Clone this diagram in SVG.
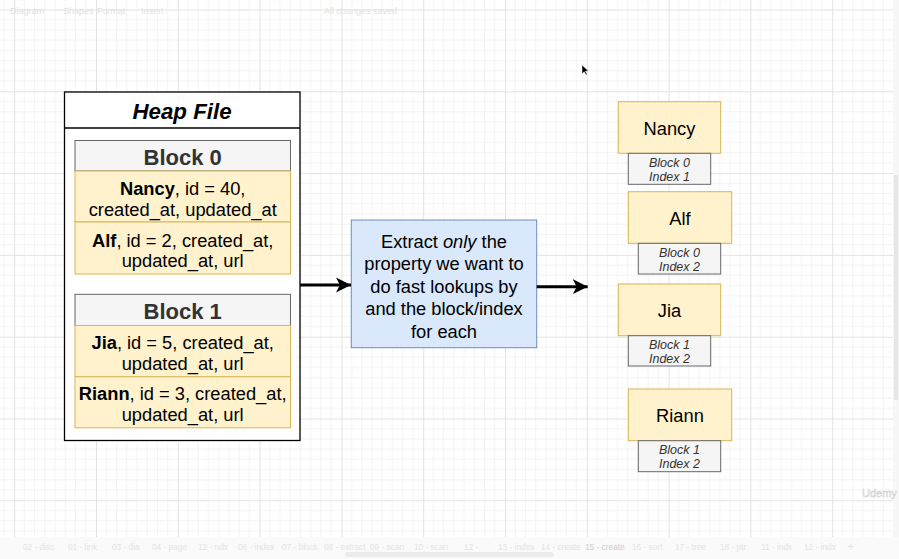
<svg xmlns="http://www.w3.org/2000/svg" width="899" height="559" viewBox="0 0 899 559">
<style>
text{font-family:"Liberation Sans",Arial,sans-serif;}
.heap{fill:#fff;stroke:#000;stroke-width:1.3;}
.hdr{fill:#f5f5f5;stroke:#666;stroke-width:1;}
.row{fill:#fff2cc;stroke:#d6b656;stroke-width:1;}
.mid{fill:#dae8fc;stroke:#6c8ebf;stroke-width:1;}
.sub{fill:#f5f5f5;stroke:#666;stroke-width:1;}
.t18{font-size:18.3px;fill:#000;text-anchor:middle;}
.hd{font-size:22px;font-weight:bold;fill:#333;text-anchor:middle;}
.sm{font-size:12.5px;font-style:italic;fill:#333;text-anchor:middle;}
.ui{font-size:9px;fill:#e2e2e2;}
.tab{font-size:8.3px;fill:#e4e4e4;}
.conn{stroke:#000;stroke-width:3;fill:none;}
</style>
<defs>
<pattern id="grid" patternUnits="userSpaceOnUse" x="14.2" y="9.5" width="81.8" height="81.8">
<path d="M10.225 0V81.8M20.45 0V81.8M30.675 0V81.8M40.9 0V81.8M51.125 0V81.8M61.35 0V81.8M71.575 0V81.8M0 10.225H81.8M0 20.45H81.8M0 30.675H81.8M0 40.9H81.8M0 51.125H81.8M0 61.35H81.8M0 71.575H81.8" stroke="#f3f3f3" stroke-width="1" fill="none"/>
<path d="M0.5 0V81.8M0 0.5H81.8" stroke="#e3e3e3" stroke-width="1" fill="none"/>
</pattern>
<marker id="arr" markerUnits="userSpaceOnUse" markerWidth="16" markerHeight="16" refX="15" refY="8" orient="auto">
<path d="M0 0.5L15 8L0 15.5L4 8Z" fill="#000"/>
</marker>
</defs>
<rect x="0" y="0" width="899" height="559" fill="#fff"/>
<rect x="0" y="0" width="893" height="537" fill="url(#grid)"/>
<rect x="893" y="0" width="6" height="537" fill="#f7f7f7"/>
<rect x="894" y="175" width="4" height="225" fill="#e6e6e6"/>
<rect x="0" y="537" width="899" height="22" fill="#fafafa"/>
<rect x="345" y="552" width="209" height="5" rx="2.5" fill="#ececec"/>

<g id="ui">
<text class="ui" x="10" y="14">Diagram</text>
<text class="ui" x="63" y="14">Shapes</text>
<text class="ui" x="97" y="14">Format</text>
<text class="ui" x="141" y="14">Insert</text>
<text class="ui" x="324" y="14">All changes saved</text>
<text class="tab" x="23" y="550">02 - disc</text>
<text class="tab" x="68" y="550">01 - link</text>
<text class="tab" x="112" y="550">03 - dia</text>
<text class="tab" x="152" y="550">04 - page</text>
<text class="tab" x="198" y="550">12 - ndx</text>
<text class="tab" x="238" y="550">06 - index</text>
<text class="tab" x="282" y="550">07 - block</text>
<text class="tab" x="324" y="550">08 - extract</text>
<text class="tab" x="370" y="550">09 - scan</text>
<text class="tab" x="414" y="550">10 - scan</text>
<text class="tab" x="464" y="550">12 -</text>
<text class="tab" x="498" y="550">13 - index</text>
<text class="tab" x="541" y="550">14 - create</text>
<text class="tab" x="585" y="550" style="fill:#cdcdcd">15 - create</text>
<text class="tab" x="632" y="550">16 - sort</text>
<text class="tab" x="675" y="550">17 - tree</text>
<text class="tab" x="720" y="550">18 - ptr</text>
<text class="tab" x="761" y="550">11 - indx</text>
<text class="tab" x="804" y="550">12 - indx</text>
<text class="tab" x="847" y="551" style="font-size:13px">+</text>
<text x="862" y="497" style="font-size:11px;fill:#fff;stroke:#d0d0d0;stroke-width:0.6">Udemy</text>
<path d="M582 65L582 74L584.2 71.8L586 75L587.2 74.4L585.5 71.2L588.5 71Z" fill="#000" stroke="#fff" stroke-width="0.5"/>
</g>

<g id="heap-file">
<rect class="heap" x="64.5" y="92" width="235.5" height="348.5"/>
<line x1="64.5" y1="128" x2="300" y2="128" stroke="#000" stroke-width="1.3"/>
<text x="182" y="118.5" style="font-size:22.3px;font-weight:bold;font-style:italic;text-anchor:middle;fill:#000">Heap File</text>
</g>

<g id="block0">
<rect class="hdr" x="75" y="140.5" width="215.5" height="30.5"/>
<text class="hd" x="182.7" y="164.5">Block 0</text>
<rect class="row" x="75" y="171" width="215.5" height="51"/>
<text class="t18" x="182.7" y="195"><tspan font-weight="bold">Nancy</tspan>, id = 40,</text>
<text class="t18" x="182.7" y="216">created_at, updated_at</text>
<rect class="row" x="75" y="222" width="215.5" height="52"/>
<text class="t18" x="182.7" y="246.5"><tspan font-weight="bold">Alf</tspan>, id = 2, created_at,</text>
<text class="t18" x="182.7" y="267">updated_at, url</text>
</g>

<g id="block1">
<rect class="hdr" x="75" y="294.3" width="215.5" height="31.2"/>
<text class="hd" x="182.7" y="318.5">Block 1</text>
<rect class="row" x="75" y="325.5" width="215.5" height="51.3"/>
<text class="t18" x="182.7" y="348.5"><tspan font-weight="bold">Jia</tspan>, id = 5, created_at,</text>
<text class="t18" x="182.7" y="369.5">updated_at, url</text>
<rect class="row" x="75" y="376.8" width="215.5" height="51"/>
<text class="t18" x="182.7" y="399.5"><tspan font-weight="bold">Riann</tspan>, id = 3, created_at,</text>
<text class="t18" x="182.7" y="420.5">updated_at, url</text>
</g>

<g id="extract">
<rect class="mid" x="351.3" y="220" width="185.4" height="127.7"/>
<text class="t18" x="444" y="247.5">Extract <tspan font-style="italic">only</tspan> the</text>
<text class="t18" x="444" y="270">property we want to</text>
<text class="t18" x="444" y="292.5">do fast lookups by</text>
<text class="t18" x="444" y="315">and the block/index</text>
<text class="t18" x="444" y="337.5">for each</text>
</g>

<g id="connectors">
<line class="conn" x1="300" y1="285" x2="351" y2="285" marker-end="url(#arr)"/>
<line class="conn" x1="536.7" y1="286.7" x2="587.7" y2="286.7" marker-end="url(#arr)"/>
</g>

<g id="nancy">
<rect class="row" x="618.3" y="101.7" width="102.4" height="51.6"/>
<text class="t18" x="669.5" y="134.5">Nancy</text>
<rect class="sub" x="628.3" y="153.3" width="82.4" height="31"/>
<text class="sm" x="669.5" y="166.5">Block 0</text>
<text class="sm" x="669.5" y="180.5">Index 1</text>
</g>

<g id="alf">
<rect class="row" x="628.3" y="191.7" width="103.4" height="51.6"/>
<text class="t18" x="680" y="224.5">Alf</text>
<rect class="sub" x="638.3" y="243.3" width="82.4" height="30.7"/>
<text class="sm" x="679.5" y="256.5">Block 0</text>
<text class="sm" x="679.5" y="270.5">Index 2</text>
</g>

<g id="jia">
<rect class="row" x="618.3" y="284" width="102.4" height="51.7"/>
<text class="t18" x="669.5" y="317">Jia</text>
<rect class="sub" x="628.3" y="335.7" width="82.4" height="30.3"/>
<text class="sm" x="669.5" y="349">Block 1</text>
<text class="sm" x="669.5" y="363">Index 2</text>
</g>

<g id="riann">
<rect class="row" x="628.3" y="389" width="103.4" height="51.7"/>
<text class="t18" x="680" y="422">Riann</text>
<rect class="sub" x="638.3" y="440.7" width="82.4" height="31"/>
<text class="sm" x="679.5" y="454">Block 1</text>
<text class="sm" x="679.5" y="468">Index 2</text>
</g>
</svg>
